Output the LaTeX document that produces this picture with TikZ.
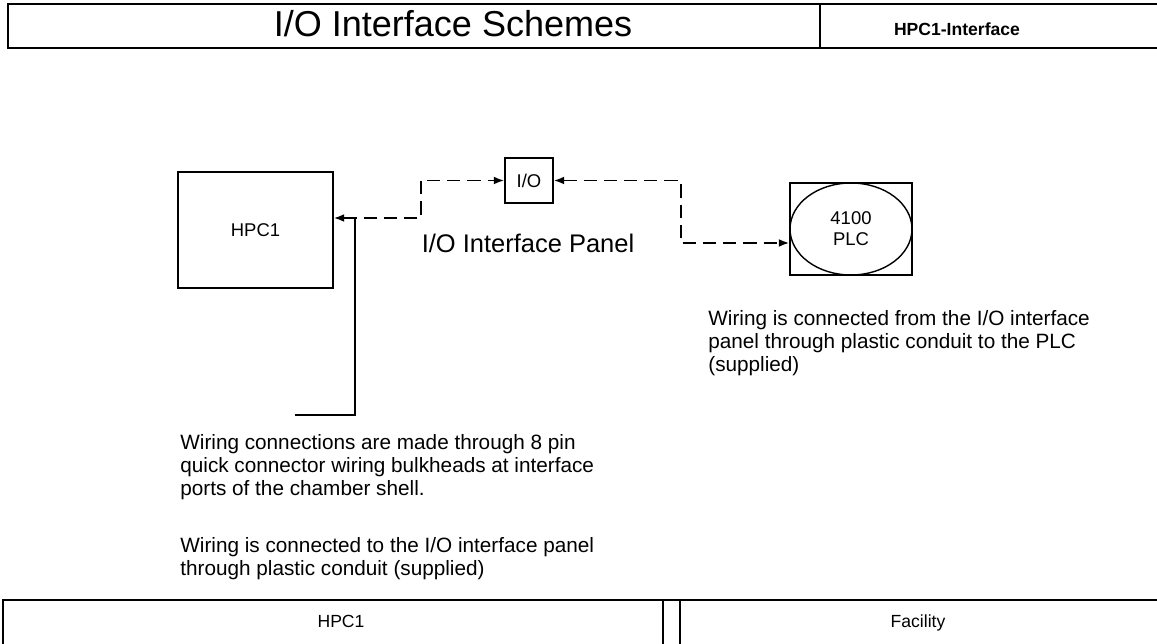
\documentclass[tikz,border=0pt]{standalone}
\usepackage{fontspec}
\setmainfont{Liberation Sans}
\usepackage{tikz}
\usetikzlibrary{
    shapes.geometric,
    arrows.meta,
    positioning,
    calc
}

\begin{document}
\begin{tikzpicture}[
    x=0.02cm, y=-0.02cm,
    >={Latex[length=6pt,width=4.5pt]},
    frame/.style={draw=black, line width=1.1pt},
    box/.style={draw=black, line width=0.8pt, inner sep=0pt, align=center, font=\fontsize{10.5}{12}\selectfont},
    wire/.style={draw=black, line width=1pt, dash pattern=on 7.5pt off 4pt, <->},
    lead/.style={draw=black, line width=0.9pt},
    note/.style={anchor=north west, align=left, inner sep=0pt, font=\fontsize{11.8}{13.2}\selectfont},
    side/.style={anchor=base, font=\fontsize{10}{12}\selectfont}
]
\useasboundingbox (0,0) rectangle (1157,644);

% ==================== HEADER ====================
\draw[frame] (8,4) rectangle (1162,48);
\draw[frame] (820,4) -- (820,48);
\node[anchor=base] (title) at (453,37) {\fontsize{20.5}{22}\selectfont I/O Interface Schemes};
\node[anchor=base] (sheet) at (957,36) {\fontsize{10}{12}\selectfont\bfseries HPC1-Interface};

% ==================== UNITS ====================
\node[box, minimum width=3.1cm, minimum height=2.32cm] (hpc) at (255.5,230) {HPC1};
\node[box, minimum width=0.96cm, minimum height=0.9cm] (io) at (529,180.5) {I/O};
\node[box, minimum width=2.44cm, minimum height=1.84cm] (plc) at (851,229) {4100\\PLC};
\node[draw=black, line width=0.8pt, ellipse, minimum width=2.44cm, minimum height=1.84cm] (plcshape) at (plc.center) {};
\node[font=\fontsize{14.5}{16}\selectfont] (panel) at (528,243) {I/O Interface Panel};

% ==================== WIRING ====================
\draw[wire] ([yshift=0.24cm]hpc.east) -- ++(87,0) |- (io.west);
\draw[wire] (io.east) -- ++(127,0) |- ([yshift=-0.28cm]plc.west);

\coordinate (tap) at (355,218);
\coordinate (tail) at (295,415);
\draw[lead] (tap) |- (tail);

% ==================== NOTES ====================
\node[note] (note_hpc) at (180,434) {
    Wiring connections are made through 8 pin\\
    quick connector wiring bulkheads at interface\\
    ports of the chamber shell.
};
\node[note] (note_panel) at (180,537) {
    Wiring is connected to the I/O interface panel\\
    through plastic conduit (supplied)
};
\node[note] (note_plc) at (708,310) {
    Wiring is connected from the I/O interface\\
    panel through plastic conduit to the PLC\\
    (supplied)
};

% ==================== FOOTER ====================
\draw[frame] (3,600) rectangle (1162,650);
\draw[frame] (663,600) -- (663,650);
\draw[frame] (680,600) -- (680,650);
\node[side] (side_hpc) at (341,628) {HPC1};
\node[side] (side_fac) at (918,628) {Facility};

\end{tikzpicture}
\end{document}
